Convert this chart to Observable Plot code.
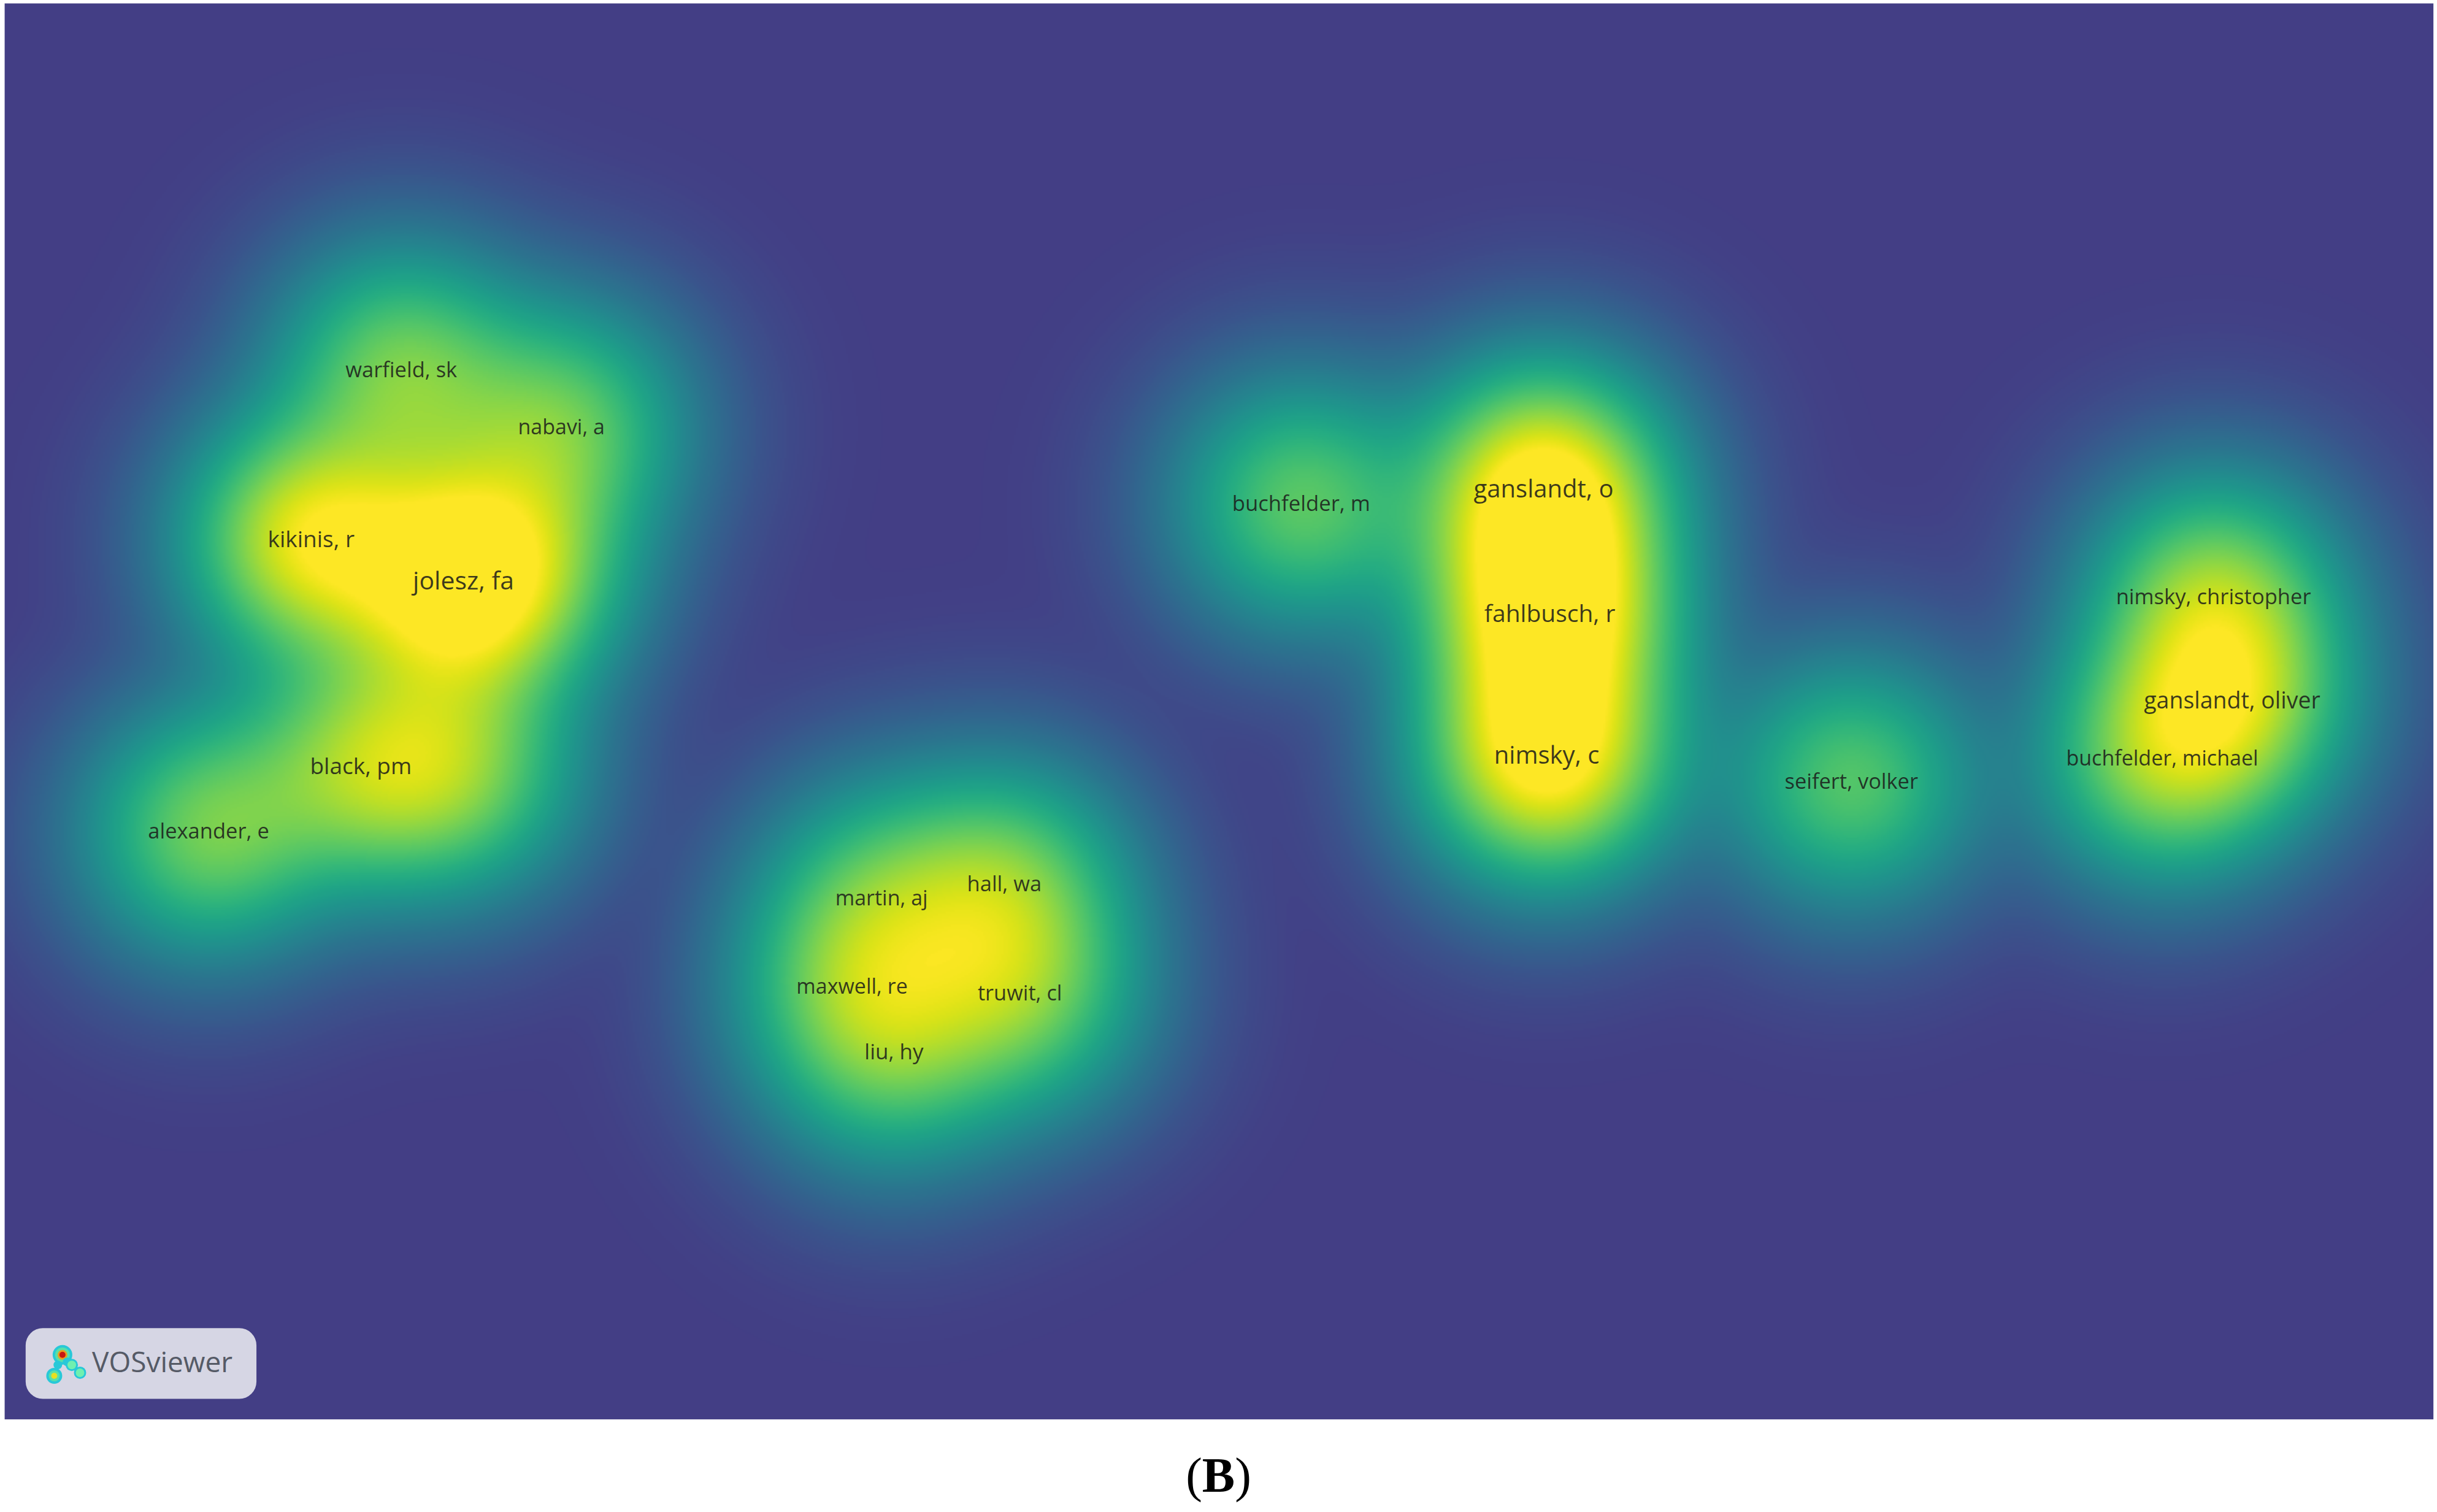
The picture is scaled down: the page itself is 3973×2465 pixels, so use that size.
<!DOCTYPE html>
<html><head><meta charset="utf-8">
<script src="https://cdn.jsdelivr.net/npm/d3@7"></script>
<script src="https://cdn.jsdelivr.net/npm/@observablehq/plot@0.6"></script>
<style>
html,body{margin:0;padding:0;background:#fff}
#cap{font-family:"Liberation Serif",serif;font-size:80px;line-height:100px;text-align:center;color:#000;padding-top:20px}
</style></head><body>
<div id="chart"></div>
<div id="cap">(<b>B</b>)</div>
<script>
const names=["warfield, sk","nabavi, a","kikinis, r","jolesz, fa","black, pm","alexander, e","martin, aj","hall, wa","maxwell, re","truwit, cl","liu, hy","buchfelder, m","ganslandt, o","fahlbusch, r","nimsky, c","seifert, volker","nimsky, christopher","ganslandt, oliver","buchfelder, michael"];
const mapX=[258,361,200,298,232,134,567,646,548,656,575,837,993,997,995,1191,1424,1436,1391];
const mapY=[238,275,347,374,493,535,578,569,635,639,677,324,315,395,486,503,384,451,488];
const weights=[.55,.52,.9,1,.55,.55,.38,.5,.38,.5,.38,.5,1.05,1.05,1.05,.48,.6,.58,.58];
const sizes=[34.5,34,37,41,37,34.5,34,34.5,34,34.3,35,34.7,40,39,40,34.4,34.6,37.5,34];
// authors in the clusters whose labels the map hides
const hiddenX=[295,335];
const hiddenY=[495,365];
const hiddenW=[.52,.3];
const spread=48;
const frameX=[2.8,1565.5], frameY=[2,913];
const badgeX=[16.5,165], badgeY=[854.5,900];
const logoText="VOSviewer";
const logoBlobX=[40,34.7,46,51.3,37,43, 40,34.7,46,51.3, 40,34.7, 40];
const logoBlobY=[871.5,885,878,883,878,876, 871.5,885,878,883, 871.5,885, 871.5];
const logoBlobR=[16,13,10,10,7,7, 12,9,7,7, 8,5, 5];
const logoBlobC=["#28c8d8","#28c8d8","#28c8d8","#28c8d8","#28c8d8","#28c8d8","#58e0a8","#58e0a8","#70f0b0","#70f0b0","#e8a020","#e8e020","#c81810"];

const nodes=names.map((name,i)=>({name,x:mapX[i],y:mapY[i],w:weights[i],s:sizes[i]}));
const kernels=[...nodes,...hiddenX.map((x,i)=>({x,y:hiddenY[i],w:hiddenW[i]}))];
const density=(x,y)=>{let v=0;for(const n of kernels){const dx=x-n.x,dy=y-n.y;v+=n.w*Math.exp(-(dx*dx+dy*dy)/(2*spread*spread));}return v;};
const blobs=logoBlobX.map((x,i)=>({x,y:logoBlobY[i],r:logoBlobR[i],c:logoBlobC[i]}));

const plot=Plot.plot({
  width:3973,height:2335,margin:0,
  x:{domain:[0,1568],range:[0,3973],axis:null},
  y:{domain:[0,921.5],range:[0,2335],axis:null},
  r:{type:"identity"},
  color:{type:"pow",exponent:.55,domain:[0,1],clamp:true,interpolate:t=>d3.interpolateViridis(0.18+0.82*t)},
  style:{background:"#fff",fontFamily:"'Open Sans',sans-serif"},
  marks:[
    Plot.raster({fill:density,x1:frameX[0],x2:frameX[1],y1:frameY[0],y2:frameY[1],pixelSize:3}),
    Plot.text(nodes,{x:"x",y:"y",text:"name",fontSize:"s",fill:"#1a1a1a",fillOpacity:.85,fontFamily:"'Open Sans',sans-serif"}),
    Plot.rect([0],{x1:badgeX[0],x2:badgeX[1],y1:badgeY[0],y2:badgeY[1],r:28,fill:"#d6d6e4"}),
    Plot.dot(blobs,{x:"x",y:"y",r:"r",fill:"c"}),
    Plot.text([logoText],{x:59,y:877,text:d=>d,textAnchor:"start",fontSize:46,fill:"#555a66",fontFamily:"'Open Sans',sans-serif"})
  ]
});
document.getElementById("chart").append(plot);
</script></body></html>
